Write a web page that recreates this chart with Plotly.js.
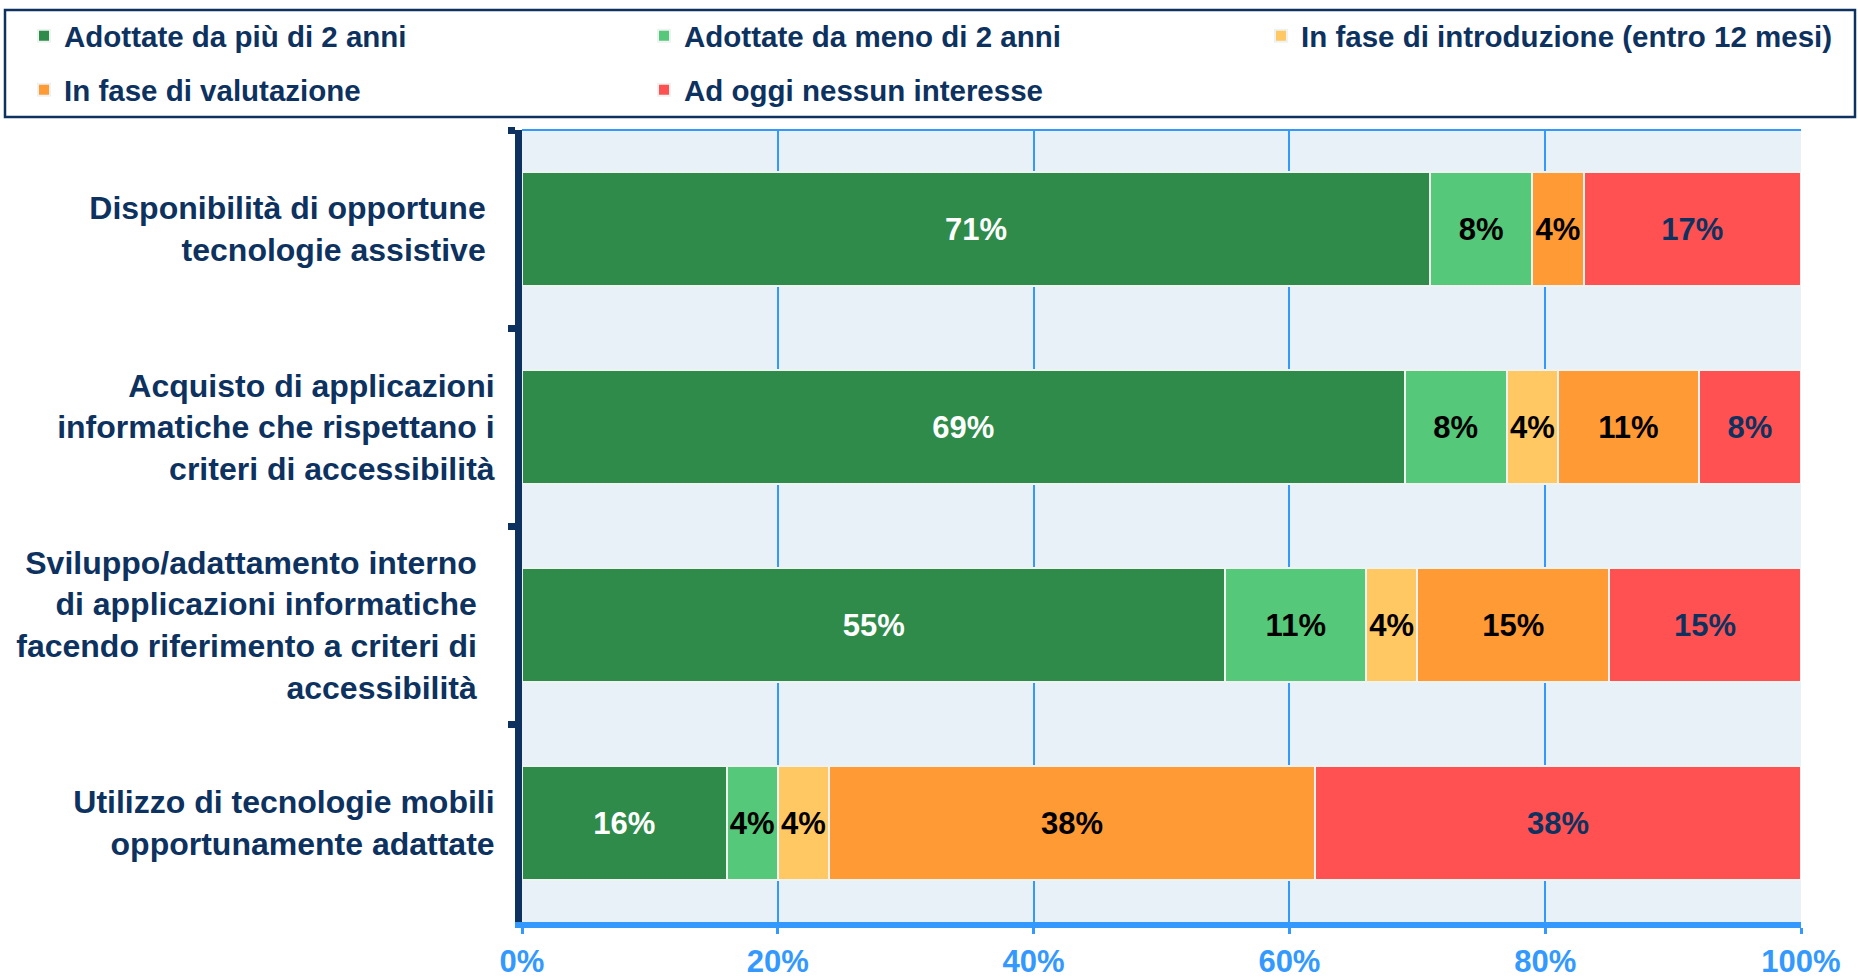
<!DOCTYPE html>
<html>
<head>
<meta charset="utf-8">
<script src="https://cdn.plot.ly/plotly-3.0.1.min.js"></script>
<style>html,body{margin:0;padding:0;background:#fff;}#chart{width:1858px;height:977px;}</style>
</head>
<body>
<div id="chart"></div>
<script>
const categories = [
  "Disponibilità di opportune&nbsp;<br>tecnologie assistive&nbsp;",
  "Acquisto di applicazioni<br>informatiche che rispettano i<br>criteri di accessibilità",
  "Sviluppo/adattamento interno&nbsp;&nbsp;<br>di applicazioni informatiche&nbsp;&nbsp;<br>facendo riferimento a criteri di&nbsp;&nbsp;<br>accessibilità&nbsp;&nbsp;",
  "Utilizzo di tecnologie mobili<br>opportunamente adattate"
];
const seriesNames = [
  "Adottate da più di 2 anni",
  "Adottate da meno di 2 anni",
  "In fase di introduzione (entro 12 mesi)",
  "In fase di valutazione",
  "Ad oggi nessun interesse"
];
const adottatePiu2 = [71, 69, 55, 16];
const adottateMeno2 = [8, 8, 11, 4];
const inIntroduzione = [0, 4, 4, 4];
const inValutazione = [4, 11, 15, 38];
const nessunInteresse = [17, 8, 15, 38];
const xTickValues = [0, 20, 40, 60, 80, 100];

const seriesValues = [adottatePiu2, adottateMeno2, inIntroduzione, inValutazione, nessunInteresse];
const barColors = ["#2E8B4A", "#55C87A", "#FFC862", "#FF9A35", "#FF5151"];
const textColors = ["#FFFFFF", "#000000", "#000000", "#000000", "#0D3260"];
const legendIds = ["legend", "legend", "legend3", "legend2", "legend2"];
const legendWidths = [575, 575, 532, 575, 400];

const FONT = "Liberation Sans, Arial, sans-serif";
const NAVY = "#0D3260";
const BLUE = "#3399FF";

const traces = seriesValues.map((vals, i) => ({
  type: "bar",
  orientation: "h",
  name: seriesNames[i],
  y: categories,
  x: vals,
  text: vals.map(v => v > 0 ? v + "%" : ""),
  textposition: "inside",
  insidetextanchor: "middle",
  textangle: 0,
  textfont: {family: FONT, size: 31, color: textColors[i], weight: "bold"},
  marker: {color: barColors[i], line: {color: "#EEF2F0", width: 2}},
  legend: legendIds[i],
  legendwidth: legendWidths[i],
  hoverinfo: "skip",
  cliponaxis: false
}));

const L = 522, R = 1801, T = 130, B = 922;
const W = R - L, H = B - T;
const px = x => (x - L) / W;
const py = y => (B - y) / H;

const legendCommon = {
  orientation: "h",
  xref: "paper", yref: "paper",
  xanchor: "left", yanchor: "middle",
  bgcolor: "rgba(0,0,0,0)",
  borderwidth: 0,
  font: {family: FONT, size: 29.5, color: NAVY, weight: "bold"},
  itemclick: false, itemdoubleclick: false,
  traceorder: "normal"
};

const layout = {
  width: 1858, height: 977,
  margin: {l: L, r: 1858 - R, t: T, b: 977 - B, pad: 0, autoexpand: false},
  paper_bgcolor: "#FFFFFF",
  plot_bgcolor: "#E8F0F8",
  barmode: "stack",
  bargap: 0.424,
  showlegend: true,
  uniformtext: {mode: "show", minsize: 31},
  legend: Object.assign({}, legendCommon, {x: px(24), y: py(36)}),
  legend3: Object.assign({}, legendCommon, {x: px(1261), y: py(36)}),
  legend2: Object.assign({}, legendCommon, {x: px(24), y: py(90)}),
  xaxis: {
    range: [0, 100],
    tickvals: xTickValues,
    ticktext: xTickValues.map(v => v + "%"),
    showgrid: true, gridcolor: BLUE, gridwidth: 2,
    zeroline: false,
    showline: true, linecolor: BLUE, linewidth: 6,
    ticks: "outside", ticklen: 6, tickwidth: 3, tickcolor: BLUE,
    ticklabelstandoff: 1,
    tickfont: {family: FONT, size: 31, color: BLUE, weight: "bold"},
    automargin: false,
    fixedrange: true
  },
  yaxis: {
    type: "category",
    autorange: "reversed",
    tickson: "boundaries",
    showgrid: false,
    zeroline: false,
    showline: true, linecolor: NAVY, linewidth: 7,
    ticks: "outside", ticklen: 7, tickwidth: 7, tickcolor: NAVY,
    ticklabelstandoff: 14,
    tickfont: {family: FONT, size: 32, color: NAVY, weight: "bold"},
    automargin: false,
    fixedrange: true
  },
  shapes: [
    {type: "rect", xref: "paper", yref: "paper",
     x0: px(5), x1: px(1855), y0: py(117), y1: py(10),
     line: {color: NAVY, width: 2.5}, fillcolor: "rgba(0,0,0,0)", layer: "above"},
    {type: "line", xref: "paper", yref: "paper",
     x0: 0, x1: 1, y0: 1, y1: 1,
     line: {color: BLUE, width: 2}, layer: "above"}
  ]
};

Plotly.newPlot("chart", traces, layout, {displayModeBar: false, staticPlot: true});
</script>
</body>
</html>
